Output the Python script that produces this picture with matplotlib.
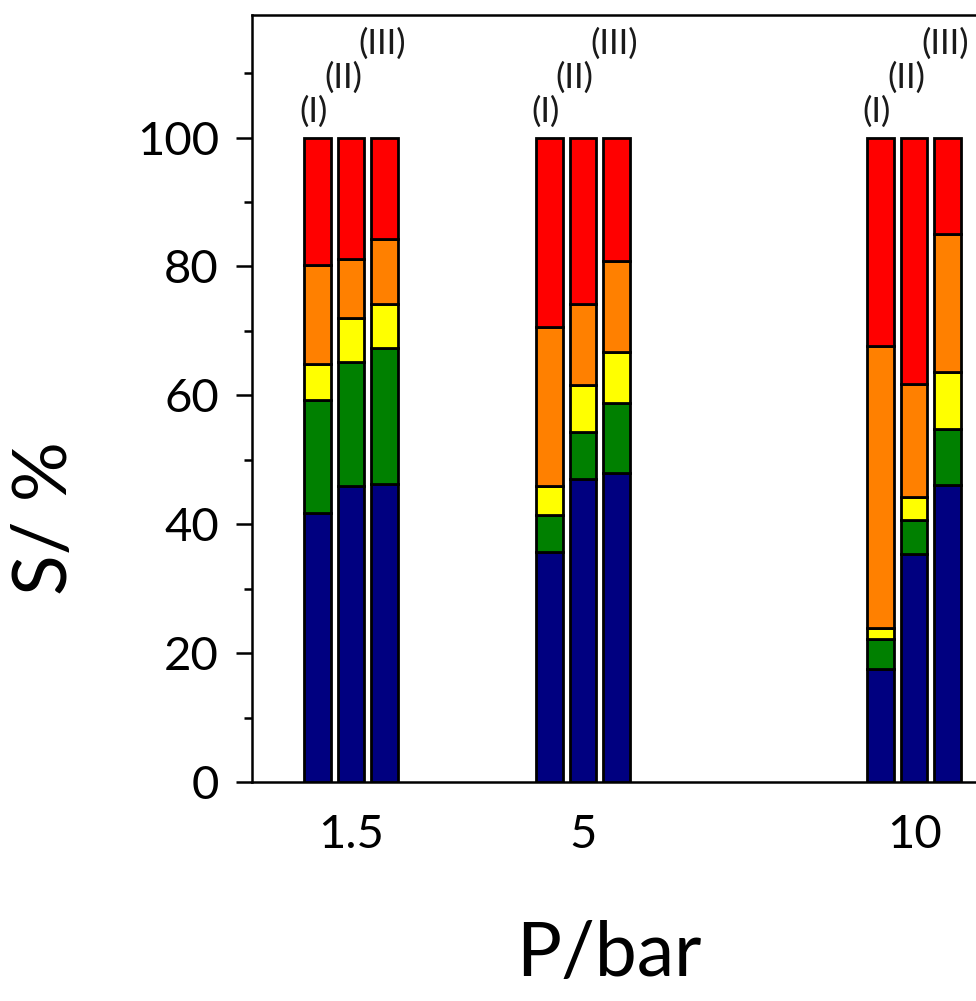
import matplotlib
matplotlib.use("Agg")
import matplotlib.pyplot as plt
import numpy as np

plt.rcParams['font.family'] = ['Lato', 'DejaVu Sans']

# Data
pressures = [1.5, 5, 10]
pressure_labels = ['1.5', '5', '10']
catalysts = ['(I)', '(II)', '(III)']
# segment values per pressure group, per catalyst (I, II, III)
blue = [[41.8, 45.9, 46.3], [35.7, 47.1, 47.9], [17.6, 35.4, 46.1]]
green = [[17.5, 19.3, 21.1], [5.8, 7.3, 11.0], [4.6, 5.3, 8.7]]
yellow = [[5.6, 6.8, 6.8], [4.4, 7.2, 7.8], [1.8, 3.6, 8.9]]
orange = [[15.4, 9.2, 10.1], [24.7, 12.6, 14.1], [43.6, 17.5, 21.4]]
red = [[19.7, 18.8, 15.7], [29.4, 25.8, 19.2], [32.4, 38.2, 14.9]]

series = [blue, green, yellow, orange, red]
colors = ['#000080', '#008000', '#FFFF00', '#FF8000', '#FF0000']

fig = plt.figure(figsize=(9.76, 10.01), dpi=100)
W, H = 976, 1001
left_px, right_px, bottom_px, top_px = 251.5, 980.4, 782.3, 15
ax = fig.add_axes([left_px / W, (H - bottom_px) / H,
                   (right_px - left_px) / W, (bottom_px - top_px) / H])

offsets = [-0.505, 0.0, 0.505]
width = 0.40
label_dx = [-0.06, -0.12, -0.03]
label_y = [104.0, 109.3, 114.6]

for gi, p in enumerate(pressures):
    for ci in range(3):
        x = p + offsets[ci]
        bottom = 0
        for s, c in zip(series, colors):
            v = s[gi][ci]
            ax.bar(x, v, width=width, bottom=bottom, color=c,
                   edgecolor='black', linewidth=2.0, zorder=3)
            bottom += v
        ax.text(x + label_dx[ci], label_y[ci], catalysts[ci], ha='center',
                va='center', fontsize=25, color='#1a1a1a')

ax.set_xlim(0, 11)
ax.set_ylim(0, 119)
ax.set_xticks(pressures)
ax.set_xticklabels(pressure_labels)
ax.set_yticks([0, 20, 40, 60, 80, 100])
ax.set_yticks(np.arange(10, 120, 20), minor=True)

for sp in ['left', 'bottom', 'top']:
    ax.spines[sp].set_linewidth(1.8)
ax.spines['right'].set_visible(False)

ax.tick_params(axis='y', which='major', length=11.5, width=1.8, pad=12,
               labelsize=34, direction='out')
ax.tick_params(axis='y', which='minor', length=6, width=1.8, direction='out')
ax.tick_params(axis='x', which='major', length=0, pad=23, labelsize=34)

ax.set_xlabel('P/bar', fontsize=54)
ax.xaxis.set_label_coords(0.49, -0.18)
ax.set_ylabel('S/ %', fontsize=54)
ax.yaxis.set_label_coords(-0.235, 0.344)

fig.savefig('out.png', dpi=100)
